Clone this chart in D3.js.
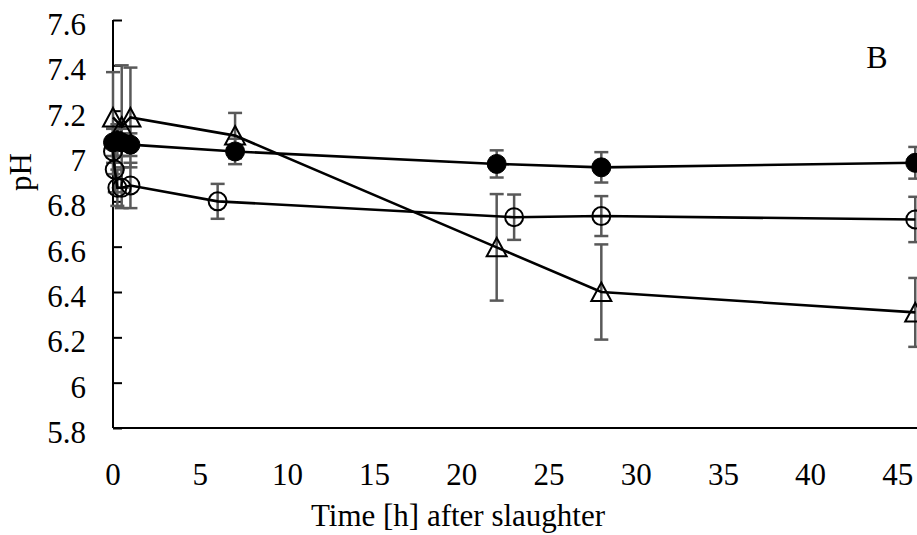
<!DOCTYPE html>
<html><head><meta charset="utf-8">
<script src="https://cdn.jsdelivr.net/npm/d3@7"></script>
<style>html,body{margin:0;padding:0;background:#fff;overflow:hidden}
text{font-family:"Liberation Serif","Times New Roman",serif}</style>
</head><body>
<script>
// ---- data ----
const yTicks = [5.8, 6, 6.2, 6.4, 6.6, 6.8, 7, 7.2, 7.4, 7.6];
const xTicks = [0, 5, 10, 15, 20, 25, 30, 35, 40, 45];

const triT = [0, 0.5, 1, 7, 22, 28, 46];
const triV = [7.17, 7.13, 7.17, 7.09, 6.597, 6.40, 6.31];
const triE = [0.2, 0.27, 0.22, 0.1, 0.235, 0.21, 0.152];

const fillT = [0, 0.25, 0.5, 1, 7, 22, 28, 46];
const fillV = [7.06, 7.07, 7.06, 7.05, 7.02, 6.965, 6.95, 6.97];
const fillE = [0.06, 0.07, 0.06, 0.05, 0.056, 0.06, 0.067, 0.07];

const openT = [0, 0.1, 0.25, 0.5, 1, 6, 23, 28, 46];
const openV = [7.02, 6.94, 6.86, 6.86, 6.87, 6.80, 6.73, 6.735, 6.72];
const openE = [0.1, 0.1, 0.08, 0.09, 0.1, 0.077, 0.1, 0.088, 0.1];

const W = 917, H = 535;
const FF = "'Liberation Serif','Times New Roman',serif";
const svg = d3.select("body").append("svg").attr("width", W).attr("height", H);

const x = d3.scaleLinear().domain([0, 50]).range([113, 113 + 50 * 17.44]);
const y = d3.scaleLinear().domain([5.8, 7.6]).range([428, 20]);

// y axis
const yAx = svg.append("g").attr("transform", `translate(${x(0)},0)`)
  .call(d3.axisRight(y).tickValues(yTicks).tickSize(9).tickFormat(""));
yAx.select(".domain").remove();
yAx.selectAll(".tick line").attr("stroke", "#000").attr("stroke-width", 2);
svg.append("line").attr("x1", x(0)).attr("x2", x(0)).attr("y1", y(7.6)).attr("y2", y(5.8))
  .attr("stroke", "#000").attr("stroke-width", 2);
svg.append("g").selectAll("text").data(yTicks).join("text")
  .attr("font-family", FF)
  .attr("x", 86).attr("y", d => y(d) + 4.5).attr("text-anchor", "end")
  .attr("dominant-baseline", "central").attr("font-size", 31).text(d => d3.format("")(d));

// x axis
svg.append("line").attr("x1", x(0)).attr("x2", W + 5).attr("y1", y(5.8)).attr("y2", y(5.8))
  .attr("stroke", "#000").attr("stroke-width", 2);
svg.append("g").selectAll("text").data(xTicks).join("text")
  .attr("font-family", FF)
  .attr("x", d => x(d)).attr("y", 474).attr("text-anchor", "middle")
  .attr("dominant-baseline", "central").attr("font-size", 31).text(d => d);

svg.append("text").attr("font-family", FF).attr("x", 458).attr("y", 515).attr("text-anchor", "middle")
  .attr("dominant-baseline", "central").attr("font-size", 31).text("Time [h] after slaughter");
svg.append("text").attr("font-family", FF).attr("transform", "translate(20,172) rotate(-90)").attr("text-anchor", "middle")
  .attr("dominant-baseline", "central").attr("font-size", 31).text("pH");
svg.append("text").attr("font-family", FF).attr("x", 877).attr("y", 57).attr("text-anchor", "middle")
  .attr("dominant-baseline", "central").attr("font-size", 32).text("B");

function series(T, V, E) { return T.map((t, i) => ({ t, v: V[i], e: E[i] })); }
const tri = series(triT, triV, triE);
const fil = series(fillT, fillV, fillE);
const opn = series(openT, openV, openE);

const line = d3.line().x(d => x(d.t)).y(d => y(d.v));
const errCol = "#595959";

function errBars(data) {
  const g = svg.append("g").attr("stroke", errCol).attr("stroke-width", 2.5);
  data.forEach(d => {
    const cx = x(d.t), y1 = y(d.v + d.e), y2 = y(d.v - d.e);
    g.append("line").attr("x1", cx).attr("x2", cx).attr("y1", y1).attr("y2", y2);
    g.append("line").attr("x1", cx - 7).attr("x2", cx + 7).attr("y1", y1).attr("y2", y1);
    g.append("line").attr("x1", cx - 7).attr("x2", cx + 7).attr("y1", y2).attr("y2", y2);
  });
}
[opn, fil, tri].forEach(errBars);

[opn, fil, tri].forEach(s => {
  svg.append("path").datum(s).attr("d", line).attr("fill", "none")
    .attr("stroke", "#000").attr("stroke-width", 2.6);
});

svg.append("g").selectAll("circle").data(opn).join("circle")
  .attr("cx", d => x(d.t)).attr("cy", d => y(d.v)).attr("r", 9)
  .attr("fill", "none").attr("stroke", "#000").attr("stroke-width", 2);
svg.append("g").selectAll("circle").data(fil).join("circle")
  .attr("cx", d => x(d.t)).attr("cy", d => y(d.v)).attr("r", 9.5)
  .attr("fill", "#000").attr("stroke", "#000").attr("stroke-width", 1);
svg.append("g").selectAll("path").data(tri).join("path")
  .attr("d", d => {
    const cx = x(d.t), cy = y(d.v);
    return `M${cx},${cy - 9.5}L${cx + 10},${cy + 9}L${cx - 10},${cy + 9}Z`;
  })
  .attr("fill", "none").attr("stroke", "#000").attr("stroke-width", 2);
</script>
</body></html>
